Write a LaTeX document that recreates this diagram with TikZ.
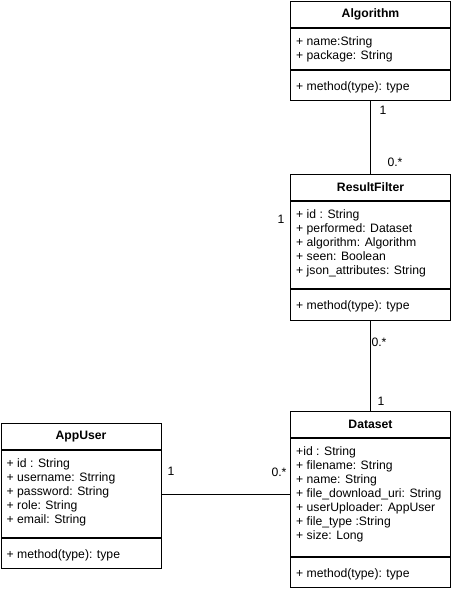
\documentclass[tikz,border=0pt]{standalone}
\usepackage{fontspec}
\setmainfont{Liberation Sans}
\usetikzlibrary{calc}
\tikzstyle{classhead}=[draw,line width=1pt,minimum width=160pt,minimum height=26pt,inner sep=0pt,anchor=north west,font=\fontsize{12.2}{14}\selectfont\bfseries]
\tikzstyle{classpart}=[draw,line width=1pt,minimum width=160pt,inner sep=0pt,anchor=north west]
\tikzstyle{member}=[anchor=base west,inner sep=0pt,font=\fontsize{12.2}{14}\selectfont]
\tikzstyle{mult}=[inner sep=0pt,font=\fontsize{12.2}{14}\selectfont]
\tikzstyle{assoc}=[draw,line width=1pt]

\begin{document}
\begin{tikzpicture}[x=1pt,y=-1pt]

\useasboundingbox[fill=white] (0,0) rectangle (451,589);

% Class heads
    \foreach \pos/\name/\label in {{(290,1)/alg/Algorithm},{(290,174)/res/ResultFilter},{(290,411)/data/Dataset},{(0.5,423)/user/AppUser}}
        \node[classhead] (\name) at \pos {\label};

% Compartments
    \foreach \name/\h in {alg/41, res/87, data/118, user/87}
        \node[classpart,minimum height=\h pt] (\name-attr) at (\name.south west) {};
    \foreach \name/\h in {alg/30, res/31, data/30, user/30}
        \node[classpart,minimum height=\h pt] (\name-meth) at (\name-attr.south west) {};

% Attributes
    \foreach \i/\txt in {0/{+ name:String}, 1/{+ package: String}}
        \node[member] (alg-a\i) at ($(alg-attr.north west)+(6,17.5+14*\i)$) {\txt};
    \foreach \i/\txt in {0/{+ id : String}, 1/{+ performed: Dataset}, 2/{+ algorithm: Algorithm}, 3/{+ seen: Boolean}, 4/{+ json\_attributes: String}}
        \node[member] (res-a\i) at ($(res-attr.north west)+(6,17.5+14*\i)$) {\txt};
    \foreach \i/\txt in {0/{+id : String}, 1/{+ filename: String}, 2/{+ name: String}, 3/{+ file\_download\_uri: String}, 4/{+ userUploader: AppUser}, 5/{+ file\_type :String}, 6/{+ size: Long}}
        \node[member] (data-a\i) at ($(data-attr.north west)+(6,17.5+14*\i)$) {\txt};
    \foreach \i/\txt in {0/{+ id : String}, 1/{+ username: Strring}, 2/{+ password: String}, 3/{+ role: String}, 4/{+ email: String}}
        \node[member] (user-a\i) at ($(user-attr.north west)+(6,17.5+14*\i)$) {\txt};

% Methods
    \foreach \name in {alg, res, data, user}
        \node[member] (\name-op) at ($(\name-meth.north west)+(6,20.5)$) {+ method(type): type};

% Associations
    \path[assoc] (alg-meth.south) -- (res.north);
    \path[assoc] (res-meth.south) -- (data.north);
    \path[assoc] (user-attr.east) -- (user-attr.east -| data-attr.west);

% Multiplicities
    \node[mult] (m-alg) at (383,110) {1};
    \node[mult] (m-res-alg) at (395,162) {0.*};
    \node[mult] (m-res) at (281,219) {1};
    \node[mult] (m-res-data) at (379,342) {0.*};
    \node[mult] (m-data-res) at (381,401) {1};
    \node[mult] (m-user) at (171,471) {1};
    \node[mult] (m-data-user) at (279,472) {0.*};

\end{tikzpicture}
\end{document}
